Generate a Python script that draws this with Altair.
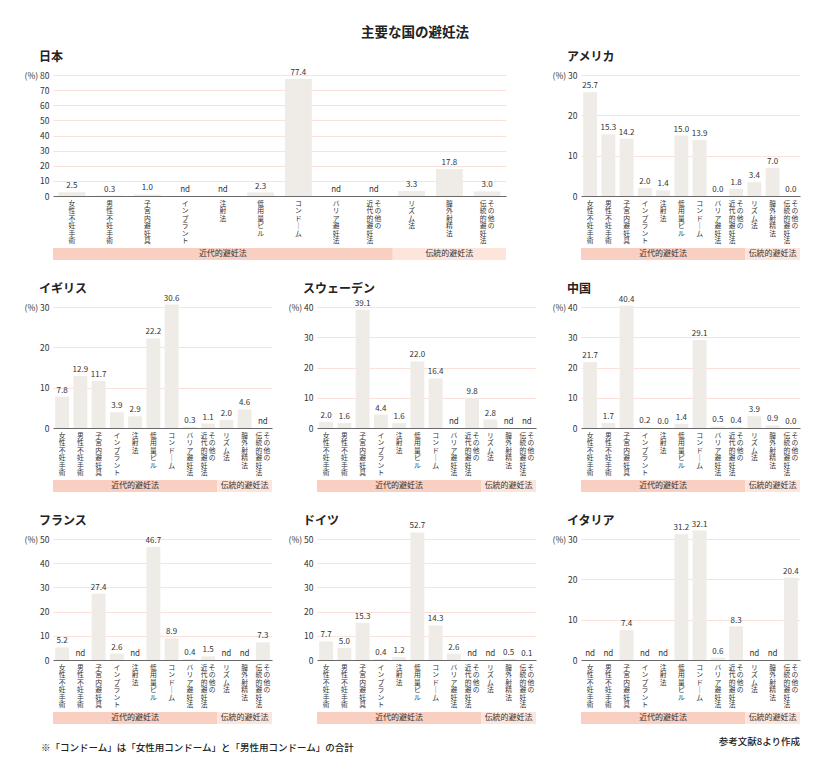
import altair as alt
import pandas as pd

FONT = "Noto Sans CJK JP"

categories = ["女性不妊手術", "男性不妊手術", "子宮内避妊具", "インプラント", "注射法",
              "低用量ピル", "コンドーム", "バリア避妊法", "その他の近代的避妊法",
              "リズム法", "膣外射精法", "その他の伝統的避妊法"]
group_names = ["近代的避妊法", "伝統的避妊法"]

countries = ["日本", "アメリカ", "イギリス", "スウェーデン", "中国", "フランス", "ドイツ", "イタリア"]

# None = nd (no data)
japan = [2.5, 0.3, 1.0, None, None, 2.3, 77.4, None, None, 3.3, 17.8, 3.0]
usa = [25.7, 15.3, 14.2, 2.0, 1.4, 15.0, 13.9, 0.0, 1.8, 3.4, 7.0, 0.0]
uk = [7.8, 12.9, 11.7, 3.9, 2.9, 22.2, 30.6, 0.3, 1.1, 2.0, 4.6, None]
sweden = [2.0, 1.6, 39.1, 4.4, 1.6, 22.0, 16.4, None, 9.8, 2.8, None, None]
china = [21.7, 1.7, 40.4, 0.2, 0.0, 1.4, 29.1, 0.5, 0.4, 3.9, 0.9, 0.0]
france = [5.2, None, 27.4, 2.6, None, 46.7, 8.9, 0.4, 1.5, None, None, 7.3]
germany = [7.7, 5.0, 15.3, 0.4, 1.2, 52.7, 14.3, 2.6, None, None, 0.5, 0.1]
italy = [None, None, 7.4, None, None, 31.2, 32.1, 0.6, 8.3, None, None, 20.4]

y_max = [80, 30, 30, 40, 40, 50, 50, 30]

footnote = "※「コンドーム」は「女性用コンドーム」と「男性用コンドーム」の合計"
source_note = "参考文献8より作成"
main_title = "主要な国の避妊法"

BAR = "#efebe6"
GRID = "#fae2da"
MODERN = "#f8cfc0"
TRAD = "#fde5dc"
TEXT = "#333333"


def vertical(s):
    return "\n".join(list(s.replace("ー", "｜")))


single_col, right_col, left_col = [], [], []
for c in categories:
    if c.startswith("その他の"):
        single_col.append("")
        right_col.append(vertical("その他の"))
        left_col.append(vertical(c[len("その他の"):]))
    else:
        single_col.append(vertical(c))
        right_col.append("")
        left_col.append("")


def panel(name, values, ymax, width, height, band_frac, extra=None):
    df = pd.DataFrame({
        "cat": categories,
        "value": [0 if v is None else v for v in values],
        "label": ["nd" if v is None else f"{v:.1f}" for v in values],
        "single": single_col,
        "right": right_col,
        "left": left_col,
    })
    xs = alt.Scale(domain=categories, paddingInner=0, paddingOuter=0)
    xaxis = alt.Axis(labels=False, ticks=False, title=None, grid=False,
                     domainColor="#6a6a6a", domainWidth=1)
    x = alt.X("cat:N", scale=xs, axis=xaxis, sort=None)
    yaxis = alt.Axis(values=list(range(0, ymax + 1, 10)),
                     labelExpr=f"datum.value == {ymax} ? '(%) ' + datum.label : datum.label",
                     grid=True, gridColor=GRID, gridWidth=1, domain=False, ticks=False,
                     labelFont=FONT, labelFontSize=8.5, labelColor=TEXT, labelPadding=4,
                     title=None)
    y = alt.Y("value:Q", scale=alt.Scale(domain=[0, ymax], nice=False, zero=True), axis=yaxis)

    base = alt.Chart(df)
    bars = base.mark_bar(color=BAR, width=alt.RelativeBandSize(band_frac)).encode(x=x, y=y)
    vals = base.mark_text(baseline="bottom", dy=-2, fontSize=8, font=FONT, color=TEXT).encode(
        x=x, y=y, text="label:N")
    lab_kw = dict(baseline="top", align="center", lineBreak="\n", fontSize=6.8,
                  lineHeight=7.4, font=FONT, color=TEXT)
    lab1 = base.transform_filter("datum.single != ''").mark_text(**lab_kw).encode(
        x=x, y=alt.value(height + 5), text="single:N")
    lab2 = base.transform_filter("datum.right != ''").mark_text(dx=4, **lab_kw).encode(
        x=x, y=alt.value(height + 5), text="right:N")
    lab3 = base.transform_filter("datum.left != ''").mark_text(dx=-4, **lab_kw).encode(
        x=x, y=alt.value(height + 5), text="left:N")

    bands_df = pd.DataFrame({
        "start": [categories[0], categories[9]],
        "end": [categories[8], categories[11]],
        "mid": [categories[4], categories[10]],
        "name": group_names,
        "color": [MODERN, TRAD],
    })
    bchart = alt.Chart(bands_df)
    band_rect = bchart.mark_rect().encode(
        x=alt.X("start:N", scale=xs, axis=xaxis, bandPosition=0),
        x2=alt.X2("end:N", bandPosition=1),
        y=alt.value(height + 52), y2=alt.value(height + 64),
        color=alt.Color("color:N", scale=None))
    band_text = bchart.mark_text(baseline="middle", fontSize=8, font=FONT, color=TEXT).encode(
        x=alt.X("mid:N", scale=xs, axis=xaxis, bandPosition=0.5),
        y=alt.value(height + 58), text="name:N")

    title = alt.Chart(pd.DataFrame({"t": [name]})).mark_text(
        align="left", baseline="middle", fontSize=12, fontWeight="bold", font=FONT,
        color="#222222").encode(x=alt.value(-14), y=alt.value(-18), text="t:N")

    layers = [band_rect, band_text, bars, vals, lab1, lab2, lab3, title]
    if extra is not None:
        layers += extra(width, height)
    return alt.layer(*layers).properties(width=width, height=height)


def foot_layer(width, height):
    return [alt.Chart(pd.DataFrame({"t": [footnote]})).mark_text(
        align="left", baseline="middle", fontSize=9.5, font=FONT, fontWeight=500,
        color="#222222").encode(x=alt.value(-12), y=alt.value(height + 88), text="t:N")]


def source_layer(width, height):
    return [alt.Chart(pd.DataFrame({"t": [source_note]})).mark_text(
        align="right", baseline="middle", fontSize=9.5, font=FONT, fontWeight=500,
        color="#222222").encode(x=alt.value(width), y=alt.value(height + 82), text="t:N")]


data = [japan, usa, uk, sweden, china, france, germany, italy]

p_japan = panel(countries[0], data[0], y_max[0], 453, 121, 0.71)
p_usa = panel(countries[1], data[1], y_max[1], 219, 121, 0.76)
p_uk = panel(countries[2], data[2], y_max[2], 219, 121, 0.76)
p_swe = panel(countries[3], data[3], y_max[3], 219, 121, 0.76)
p_chn = panel(countries[4], data[4], y_max[4], 219, 121, 0.76)
p_fra = panel(countries[5], data[5], y_max[5], 219, 121, 0.76, foot_layer)
p_ger = panel(countries[6], data[6], y_max[6], 219, 121, 0.76)
p_ita = panel(countries[7], data[7], y_max[7], 219, 121, 0.76, source_layer)

row1 = alt.hconcat(p_japan, p_usa, spacing=75, bounds="flush")
row2 = alt.hconcat(p_uk, p_swe, p_chn, spacing=45, bounds="flush")
row3 = alt.hconcat(p_fra, p_ger, p_ita, spacing=45, bounds="flush")

chart = alt.vconcat(row1, row2, row3, spacing=23).properties(
    title=alt.TitleParams(main_title, fontSize=13.5, fontWeight="bold", font=FONT,
                          anchor="middle", color="#222222", offset=12, dx=3),
    padding={"left": 16, "top": 17, "right": 5, "bottom": 5},
).configure_view(stroke=None)

chart.save("out.html", embed_options={"renderer": "svg", "actions": False})
